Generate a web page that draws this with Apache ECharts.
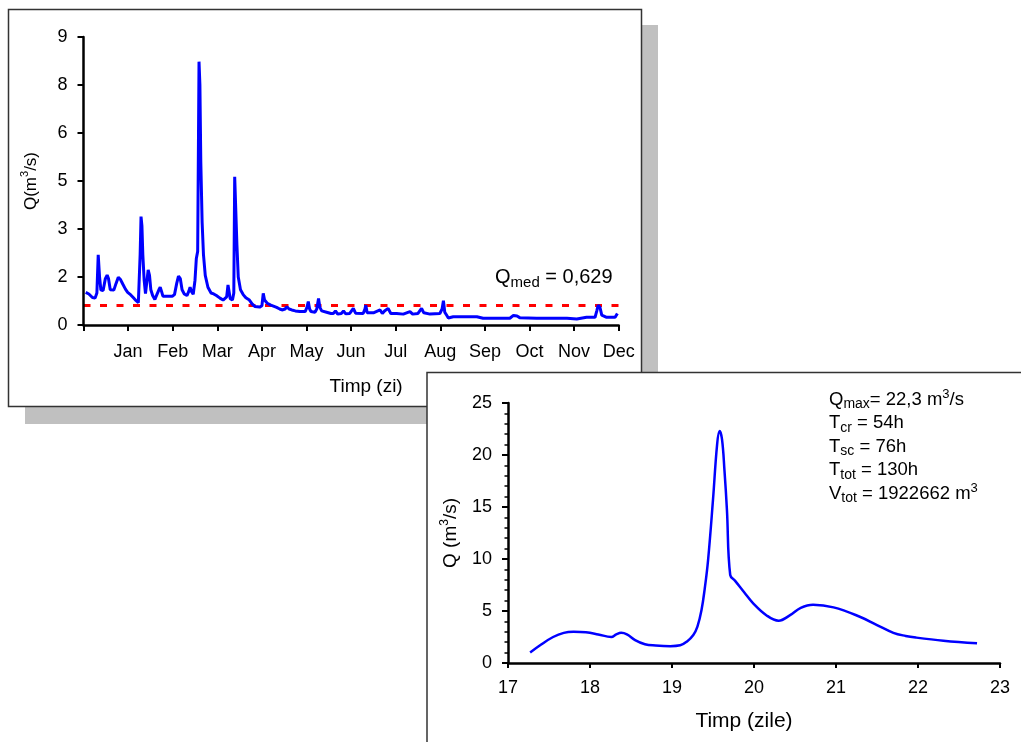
<!DOCTYPE html>
<html>
<head>
<meta charset="utf-8">
<script src="https://cdn.jsdelivr.net/npm/echarts@6/dist/echarts.min.js"></script>
<style>
html,body{margin:0;padding:0;background:#fff;}
#c{width:1021px;height:742px;}
</style>
</head>
<body>
<div id="c"></div>
<script>
// ---- Chart 1: daily discharge over the year ----
const monthLabels = ['', 'Jan', 'Feb', 'Mar', 'Apr', 'May', 'Jun', 'Jul', 'Aug', 'Sep', 'Oct', 'Nov', 'Dec'];
const dailyMonth = [
  0.05,0.12,0.20,0.26,0.30,0.33,0.36,0.39,0.44,0.49,
  0.53,0.56,0.60,0.68,0.73,0.78,0.83,0.88,0.94,0.99,
  1.06,1.12,1.18,1.23,1.25,1.27,1.29,1.31,1.33,1.36,
  1.39,1.42,1.45,1.48,1.51,1.55,1.60,1.64,1.69,1.72,
  1.75,1.78,1.99,2.04,2.09,2.13,2.17,2.21,2.26,2.32,
  2.36,2.39,2.42,2.46,2.50,2.53,2.56,2.59,2.61,2.63,
  2.66,2.69,2.73,2.79,2.86,2.92,2.98,3.06,3.13,3.17,
  3.21,3.24,3.26,3.29,3.34,3.37,3.39,3.42,3.44,3.47,
  3.52,3.58,3.64,3.72,3.78,3.84,3.95,4.00,4.03,4.06,
  4.12,4.20,4.33,4.40,4.45,4.52,4.56,4.61,4.67,4.75,
  4.85,4.97,5.01,5.04,5.07,5.10,5.19,5.23,5.27,5.30,
  5.34,5.45,5.55,5.60,5.65,5.70,5.78,5.83,5.88,5.97,
  6.05,6.10,6.27,6.31,6.33,6.36,6.50,6.60,6.65,6.70,
  6.75,6.83,6.89,7.02,7.17,7.32,7.38,7.50,7.58,7.63,
  7.77,7.99,8.04,8.07,8.10,8.14,8.18,8.22,8.29,8.82,
  8.96,9.56,9.64,9.68,9.72,9.78,10.16,10.84,11.06,11.28,
  11.47,11.51,11.54,11.58,11.62,11.73,11.92,11.97
];
const dailyQ = [
  1.02,0.97,0.86,0.84,1.0,2.19,1.5,1.09,1.08,1.45,
  1.56,1.45,1.10,1.09,1.30,1.49,1.42,1.28,1.12,1.02,
  0.94,0.85,0.76,0.70,0.73,2.2,3.39,3.1,2.2,1.4,
  0.98,1.35,1.72,1.55,1.1,0.92,0.80,0.82,1.1,1.18,
  1.05,0.90,0.90,0.95,1.3,1.53,1.45,1.1,0.97,0.92,
  1.05,1.18,1.05,0.96,1.4,2.08,2.3,8.23,7.5,5.1,
  3.2,2.2,1.55,1.18,1.0,0.97,0.92,0.84,0.78,0.80,
  0.88,1.25,1.2,0.82,0.78,1.0,4.63,4.6,2.5,1.5,
  1.1,0.95,0.85,0.78,0.66,0.58,0.56,0.6,0.99,0.78,
  0.68,0.62,0.55,0.50,0.47,0.50,0.57,0.50,0.47,0.44,
  0.42,0.42,0.55,0.73,0.5,0.42,0.40,0.50,0.83,0.55,
  0.44,0.40,0.36,0.36,0.44,0.34,0.36,0.44,0.35,0.36,
  0.52,0.37,0.36,0.5,0.62,0.38,0.38,0.44,0.47,0.36,
  0.44,0.52,0.36,0.36,0.34,0.42,0.34,0.36,0.52,0.38,
  0.34,0.36,0.5,0.76,0.40,0.31,0.22,0.26,0.26,0.26,
  0.21,0.21,0.30,0.36,0.28,0.23,0.21,0.21,0.19,0.24,
  0.24,0.45,0.62,0.55,0.31,0.24,0.24,0.36
];
const qMed = 0.629;

// ---- Chart 2: flood hydrograph ----
const floodDay = [
  17.27,17.40,17.55,17.68,17.80,17.95,18.10,18.26,18.32,18.38,
  18.45,18.55,18.67,18.80,18.98,19.10,19.18,19.26,19.31,19.36,
  19.40,19.44,19.50,19.55,19.58,19.61,19.64,19.67,19.71,19.77,
  19.88,19.99,20.15,20.30,20.44,20.57,20.72,20.97,21.29,21.50,
  21.70,21.85,21.98,22.31,22.72
];
const floodQ = [
  1.0,1.75,2.5,2.9,3.0,2.95,2.75,2.5,2.75,2.9,
  2.75,2.2,1.8,1.68,1.62,1.7,2.05,2.7,3.5,5.1,
  7.2,9.9,15.7,21.0,22.3,21.5,18.5,14.7,8.46,7.9,
  6.8,5.74,4.6,4.07,4.6,5.3,5.6,5.35,4.45,3.65,
  2.9,2.6,2.44,2.15,1.9
];

const F = '"Liberation Sans", Arial, Helvetica, sans-serif';
const line1 = dailyMonth.map((m, i) => [m, dailyQ[i]]);
const line2 = floodDay.map((d, i) => [d, floodQ[i]]);

const axLine = {onZero: false, lineStyle: {color: '#000', width: 2.5}};
const axTick = {length: 6, lineStyle: {color: '#000', width: 2}};

const chart = echarts.init(document.getElementById('c'), null, {renderer: 'canvas'});
chart.setOption({
  animation: false,
  backgroundColor: '#fff',
  textStyle: {fontFamily: F},
  grid: [
    {left: 83.5, top: 37, width: 535.2, height: 288},
    {left: 508, top: 403, width: 492, height: 260}
  ],
  xAxis: [
    {
      gridIndex: 0, type: 'value', min: 0, max: 12, interval: 1, z: 10,
      axisLine: axLine, axisTick: axTick, splitLine: {show: false},
      axisLabel: {color: '#000', fontSize: 18, fontFamily: F, margin: 18,
        formatter: v => monthLabels[Math.round(v)] || ''},
      name: 'Timp (zi)', nameLocation: 'middle', nameGap: 52,
      nameTextStyle: {color: '#000', fontSize: 19, fontFamily: F, padding: [0, 0, 0, 30]}
    },
    {
      gridIndex: 1, type: 'value', min: 17, max: 23, interval: 1, z: 10,
      axisLine: axLine, axisTick: {length: 5, lineStyle: {color: '#000', width: 2}}, splitLine: {show: false},
      axisLabel: {color: '#000', fontSize: 18, fontFamily: F, margin: 16},
      name: 'Timp (zile)', nameLocation: 'middle', nameGap: 48,
      nameTextStyle: {color: '#000', fontSize: 21, fontFamily: F, padding: [0, 20, 0, 0]}
    }
  ],
  yAxis: [
    {
      gridIndex: 0, type: 'value', min: 0, max: 9, interval: 1.5, z: 10,
      axisLine: axLine, axisTick: axTick, splitLine: {show: false},
      axisLabel: {color: '#000', fontSize: 18, fontFamily: F, margin: 16,
        formatter: v => String(Math.round(v))},
      name: '{a|Q(m}{s|3}{a|/s)}', nameLocation: 'middle', nameGap: 40,
      nameTextStyle: {rich: {
        a: {fontSize: 17, lineHeight: 24, fontFamily: F, color: '#000'},
        s: {fontSize: 11, lineHeight: 17, verticalAlign: 'top', fontFamily: F, color: '#000'}
      }}
    },
    {
      gridIndex: 1, type: 'value', min: 0, max: 25, interval: 5, z: 10,
      axisLine: axLine, axisTick: axTick, splitLine: {show: false},
      minorTick: {show: true, splitNumber: 5, length: 3.5, lineStyle: {color: '#000', width: 1.5}},
      axisLabel: {color: '#000', fontSize: 18, fontFamily: F, margin: 16},
      name: '{a|Q (m}{s|3}{a|/s)}', nameLocation: 'middle', nameGap: 45,
      nameTextStyle: {rich: {
        a: {fontSize: 19, lineHeight: 24, fontFamily: F, color: '#000'},
        s: {fontSize: 12, lineHeight: 17, verticalAlign: 'top', fontFamily: F, color: '#000'}
      }}
    }
  ],
  series: [
    {
      type: 'line', xAxisIndex: 0, yAxisIndex: 0, data: line1, showSymbol: false, z: 12,
      lineStyle: {color: '#0000ff', width: 3}, emphasis: {disabled: true},
      markLine: {
        silent: true, symbol: 'none', label: {show: false}, animation: false,
        lineStyle: {color: '#ff0000', width: 3, type: [7, 9.5]},
        emphasis: {disabled: true},
        data: [{yAxis: qMed}]
      }
    },
    {
      type: 'line', xAxisIndex: 1, yAxisIndex: 1, data: line2, showSymbol: false, z: 12,
      smooth: 0.4, lineStyle: {color: '#0000ff', width: 2.5}, emphasis: {disabled: true}
    }
  ],
  graphic: [
    {type: 'rect', z: 0, silent: true, shape: {x: 25, y: 25, width: 633, height: 399}, style: {fill: '#c0c0c0'}},
    {type: 'rect', z: 1, silent: true, shape: {x: 8.5, y: 9.5, width: 633, height: 397}, style: {fill: '#fff', stroke: '#333', lineWidth: 1.5}},
    {type: 'rect', z: 2, silent: true, shape: {x: 427, y: 372.5, width: 620, height: 400}, style: {fill: '#fff', stroke: '#333', lineWidth: 1.5}},
    {
      type: 'text', z: 20, left: 495, top: 267, silent: true,
      style: {
        text: '{a|Q}{b|med}{a| = 0,629}',
        rich: {
          a: {fontSize: 20, lineHeight: 26, fontFamily: F, fill: '#000'},
          b: {fontSize: 15, lineHeight: 14, verticalAlign: 'bottom', fontFamily: F, fill: '#000'}
        }
      }
    },
    {
      type: 'text', z: 20, left: 829, top: 388, silent: true,
      style: {
        text: '{a|Q}{b|max}{a|= 22,3 m}{s|3}{a|/s}\n' +
              '{a|T}{b|cr}{a| = 54h}\n' +
              '{a|T}{b|sc}{a| = 76h}\n' +
              '{a|T}{b|tot}{a| = 130h}\n' +
              '{a|V}{b|tot}{a| = 1922662 m}{s|3}',
        rich: {
          a: {fontSize: 18.5, lineHeight: 23.5, fontFamily: F, fill: '#000'},
          b: {fontSize: 14, lineHeight: 12, verticalAlign: 'bottom', fontFamily: F, fill: '#000'},
          s: {fontSize: 13, lineHeight: 17, verticalAlign: 'top', fontFamily: F, fill: '#000'}
        }
      }
    }
  ]
});
</script>
</body>
</html>
